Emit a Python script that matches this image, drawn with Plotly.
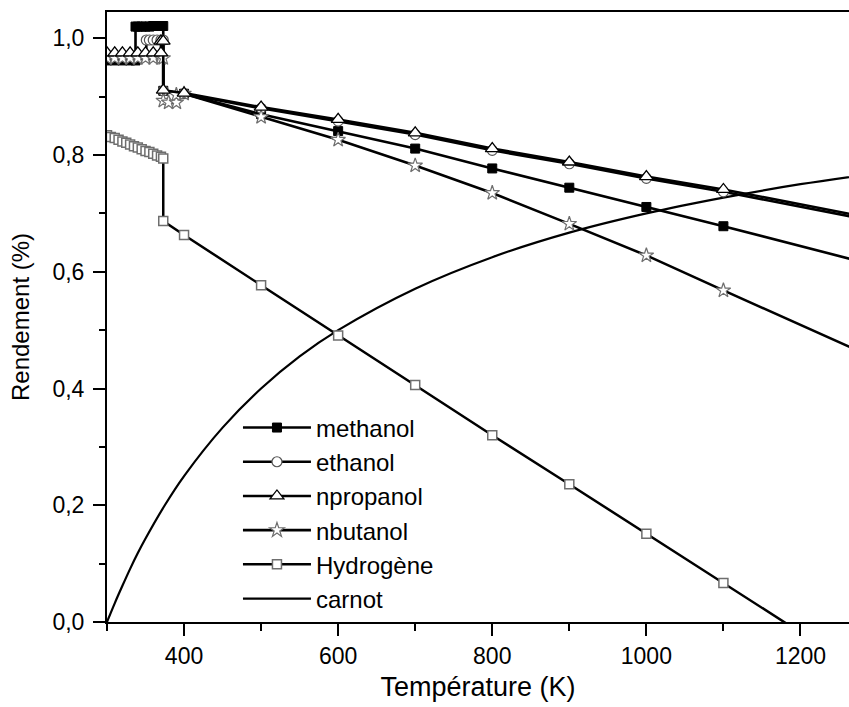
import plotly.graph_objects as go

# ---------------- data ----------------
methanol_T = [300, 310, 320, 330, 337, 337, 340, 345, 350, 355, 360, 365, 370, 373,
              373, 400, 500, 600, 700, 800, 900, 1000, 1100, 1300]
methanol_v = [0.962, 0.962, 0.962, 0.962, 0.962, 1.020, 1.020, 1.020, 1.020, 1.020, 1.021, 1.021, 1.021, 1.021,
              0.910, 0.905, 0.870, 0.841, 0.811, 0.777, 0.744, 0.711, 0.678, 0.610]

ethanol_T = [300, 310, 320, 330, 340, 351, 351, 355, 360, 365, 370, 373,
             373, 400, 500, 600, 700, 800, 900, 1000, 1100, 1300]
ethanol_v = [0.970, 0.970, 0.970, 0.970, 0.970, 0.970, 0.997, 0.997, 0.997, 0.997, 0.997, 0.997,
             0.910, 0.905, 0.880, 0.858, 0.835, 0.808, 0.785, 0.760, 0.737, 0.686]

npropanol_T = [300, 310, 320, 330, 340, 350, 360, 370, 370, 373,
               373, 400, 500, 600, 700, 800, 900, 1000, 1100, 1300]
npropanol_v = [0.975, 0.975, 0.975, 0.975, 0.975, 0.975, 0.975, 0.975, 0.995, 0.995,
               0.911, 0.906, 0.882, 0.861, 0.838, 0.811, 0.788, 0.763, 0.741, 0.690]

nbutanol_T = [300, 310, 320, 330, 340, 350, 360, 370, 373,
              373, 380, 390, 390, 400, 500, 600, 700, 800, 900, 1000, 1100, 1300]
nbutanol_v = [0.966, 0.966, 0.966, 0.966, 0.966, 0.966, 0.966, 0.966, 0.966,
              0.893, 0.890, 0.890, 0.903, 0.905, 0.865, 0.826, 0.782, 0.735, 0.682, 0.628, 0.568, 0.450]

hydrogen_T = [300, 305, 310, 315, 320, 325, 330, 335, 340, 345, 350, 355, 360, 365, 370, 373,
              373, 400, 500, 600, 700, 800, 900, 1000, 1100, 1200]
hydrogen_v = [0.834, 0.831, 0.829, 0.826, 0.823, 0.821, 0.818, 0.815, 0.813, 0.810, 0.807, 0.805,
              0.802, 0.799, 0.797, 0.794,
              0.687, 0.663, 0.577, 0.491, 0.406, 0.320, 0.236, 0.151, 0.067, -0.018]

carnot_T = [300, 310, 320, 330, 340, 350, 375, 400, 450, 500, 550, 600, 700, 800, 900, 1000, 1100, 1200, 1300]
carnot_v = [0.0, 0.032, 0.062, 0.091, 0.118, 0.143, 0.200, 0.250, 0.333, 0.400, 0.455, 0.500,
            0.571, 0.625, 0.667, 0.700, 0.727, 0.750, 0.769]

x_range = [300, 1263]
y_range = [0, 1.045]
x_title = "Température (K)"
y_title = "Rendement (%)"

FONT = "Liberation Sans, Arial, sans-serif"

fig = go.Figure()

fig.add_trace(go.Scatter(
    x=carnot_T, y=carnot_v, name="carnot", mode="lines",
    line=dict(color="black", width=2.2, shape="spline"), legendrank=6))

fig.add_trace(go.Scatter(
    x=hydrogen_T, y=hydrogen_v, name="Hydrogène", mode="lines+markers",
    line=dict(color="black", width=2.5),
    marker=dict(symbol="square", size=9, color="white", line=dict(color="#6e6e6e", width=1.5)),
    legendrank=5))

fig.add_trace(go.Scatter(
    x=methanol_T, y=methanol_v, name="methanol", mode="lines+markers",
    line=dict(color="black", width=2.6),
    marker=dict(symbol="square", size=9, color="black", line=dict(color="black", width=1)),
    legendrank=1))

fig.add_trace(go.Scatter(
    x=ethanol_T, y=ethanol_v, name="ethanol", mode="lines+markers",
    line=dict(color="black", width=2.6),
    marker=dict(symbol="circle", size=10, color="white", line=dict(color="#555555", width=1.2)),
    legendrank=2))

fig.add_trace(go.Scatter(
    x=nbutanol_T, y=nbutanol_v, name="nbutanol", mode="lines+markers",
    line=dict(color="black", width=2.6),
    marker=dict(symbol="star", size=11, color="white", line=dict(color="#6e6e6e", width=1.2)),
    legendrank=4))

fig.add_trace(go.Scatter(
    x=npropanol_T, y=npropanol_v, name="npropanol", mode="lines+markers",
    line=dict(color="black", width=2.6),
    marker=dict(symbol="triangle-up", size=12, color="white", line=dict(color="black", width=1.3)),
    legendrank=3))

fig.update_layout(
    width=849, height=707,
    margin=dict(l=107, r=0, t=12, b=85),
    paper_bgcolor="white", plot_bgcolor="white",
    separators=",.",
    font=dict(family=FONT, size=22, color="black"),
    showlegend=True,
    legend=dict(x=0.1765, y=0.355, xanchor="left", yanchor="top",
                bgcolor="rgba(0,0,0,0)", font=dict(family=FONT, size=24, color="black"),
                itemwidth=68, tracegroupgap=0),
    xaxis=dict(range=x_range, tick0=0, dtick=200, ticks="outside", ticklen=12, tickwidth=2,
               tickcolor="black", showline=True, linecolor="black", linewidth=2, mirror=True,
               showgrid=False, zeroline=False,
               tickfont=dict(family=FONT, size=23, color="black"),
               title=dict(text=x_title, font=dict(family=FONT, size=27, color="black"), standoff=10),
               minor=dict(dtick=100, tick0=0, ticks="outside", ticklen=7, tickwidth=2, tickcolor="black")),
    yaxis=dict(range=y_range, tick0=0, dtick=0.2, tickformat=".1f", ticks="outside", ticklen=12,
               tickwidth=2, tickcolor="black", showline=True, linecolor="black", linewidth=2,
               showgrid=False, zeroline=False, ticklabelstandoff=4,
               tickfont=dict(family=FONT, size=23, color="black"),
               title=dict(text=y_title, font=dict(family=FONT, size=24, color="black"), standoff=16),
               minor=dict(dtick=0.1, tick0=0, ticks="outside", ticklen=6, tickwidth=2, tickcolor="black")),
)

fig.write_html(
    "out.html",
    config={"displayModeBar": False},
    post_script="document.body.style.margin='0';document.documentElement.style.overflow='hidden';",
)
